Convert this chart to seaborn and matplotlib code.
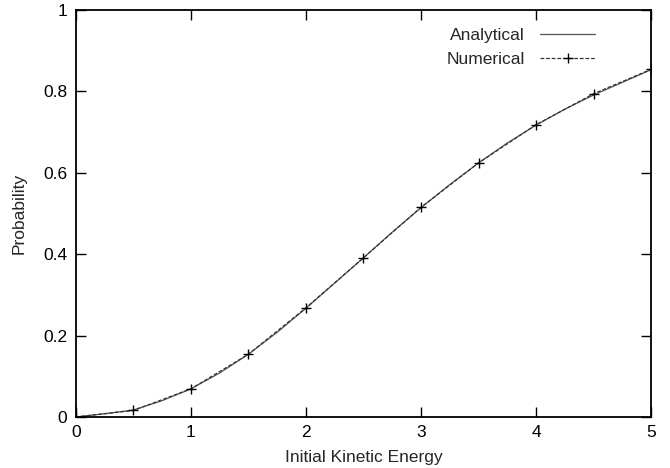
import matplotlib
matplotlib.use("Agg")
import matplotlib.pyplot as plt
import seaborn as sns
import pandas as pd

# Analytical curve
x_analytical = [0.0, 0.25, 0.5, 0.75, 1.0, 1.25, 1.5, 1.75, 2.0, 2.25, 2.5,
                2.75, 3.0, 3.25, 3.5, 3.75, 4.0, 4.25, 4.5, 4.75, 5.0]
y_analytical = [0.0, 0.008, 0.017, 0.040, 0.069, 0.108, 0.154, 0.208, 0.267, 0.329, 0.391,
                0.454, 0.514, 0.571, 0.624, 0.673, 0.717, 0.756, 0.791, 0.822, 0.853]

# Numerical points
x_numerical = [0.0, 0.5, 1.0, 1.5, 2.0, 2.5, 3.0, 3.5, 4.0, 4.5, 5.0]
y_numerical = [0.0, 0.016, 0.069, 0.154, 0.268, 0.391, 0.515, 0.624, 0.718, 0.794, 0.854]

x_ticks = [0, 1, 2, 3, 4, 5]
y_ticks = [0, 0.2, 0.4, 0.6, 0.8, 1]
y_ticklabels = ["0", "0.2", "0.4", "0.6", "0.8", "1"]

sns.set_style("ticks")
plt.rcParams['font.family'] = ['Liberation Sans', 'DejaVu Sans']

FS = 12.5

fig = plt.figure(figsize=(6.7, 4.68), dpi=100)
ax = fig.add_axes([0.113, 0.109, 0.859, 0.870])

df_a = pd.DataFrame({"x": x_analytical, "y": y_analytical})
df_n = pd.DataFrame({"x": x_numerical, "y": y_numerical})

sns.lineplot(data=df_a, x="x", y="y", ax=ax, color="#555555", lw=0.9,
             label="Analytical")
sns.lineplot(data=df_n, x="x", y="y", ax=ax, color="#333333", lw=0.9,
             linestyle=(0, (3, 1.5)), marker="+", markersize=7, markeredgewidth=1.0,
             markeredgecolor="black", label="Numerical")

ax.set_xlim(0, 5)
ax.set_ylim(0, 1)
ax.set_xticks(x_ticks)
ax.set_xticklabels([str(t) for t in x_ticks])
ax.set_yticks(y_ticks)
ax.set_yticklabels(y_ticklabels)
ax.tick_params(direction="in", length=7, width=1, top=True, right=True,
               labelsize=FS, colors="black")
ax.tick_params(axis="x", pad=6)
ax.tick_params(axis="y", pad=6)
for s in ax.spines.values():
    s.set_visible(True)
    s.set_linewidth(1.3)
    s.set_color("black")

ax.set_xlabel("Initial Kinetic Energy", fontsize=FS, labelpad=7)
ax.set_ylabel("Probability", fontsize=FS, labelpad=12)

leg = ax.legend(loc="upper right", bbox_to_anchor=(0.93, 0.995), frameon=False,
                markerfirst=False, fontsize=FS, handlelength=3.2,
                handletextpad=0.85, labelspacing=0.55)
for t in leg.get_texts():
    t.set_ha("right")

fig.savefig("out.png", dpi=100)
